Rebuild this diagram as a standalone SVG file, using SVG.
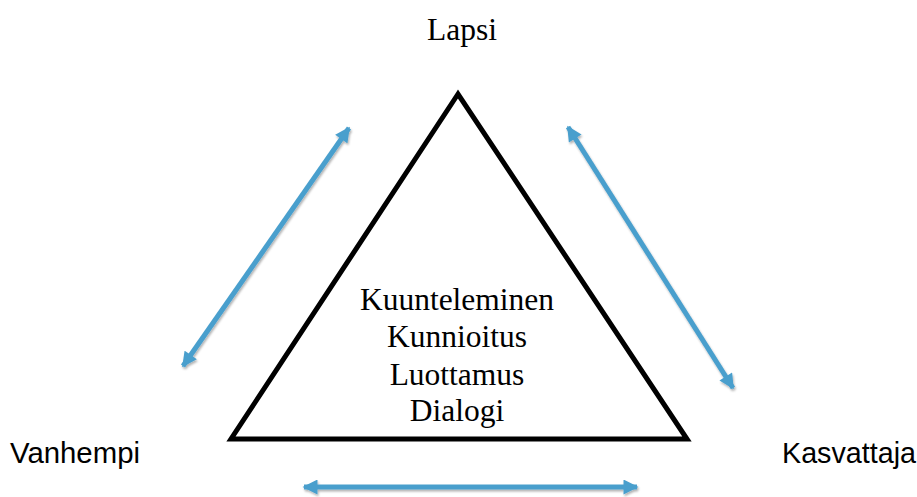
<svg xmlns="http://www.w3.org/2000/svg" width="917" height="497" viewBox="0 0 917 497">
<style>
.serif{font-family:"Liberation Serif","Times New Roman",serif;font-size:31.5px;fill:#000}
.sans{font-family:"Liberation Sans",Arial,sans-serif;font-size:29px;fill:#000}
.conn line{stroke:#4a9fcd;stroke-width:5;fill:none;marker-start:url(#ah);marker-end:url(#ah);filter:url(#sh)}
</style>
<defs>
<marker id="ah" viewBox="0 0 10 10" refX="9" refY="5" markerWidth="3.2" markerHeight="3" orient="auto-start-reverse" markerUnits="strokeWidth">
<path d="M0,0 L10,5 L0,10 Z" fill="#4a9fcd"/>
</marker>
<filter id="sh" filterUnits="userSpaceOnUse" x="0" y="0" width="917" height="497">
<feDropShadow dx="1" dy="2" stdDeviation="1.2" flood-color="#000" flood-opacity="0.3"/>
</filter>
</defs>
<g id="triangle">
<polygon points="458,94 231,439 687,439" fill="#fff" stroke="#000" stroke-width="5" stroke-linejoin="miter"/>
<text class="serif" text-anchor="middle" x="457" y="310">Kuunteleminen</text>
<text class="serif" text-anchor="middle" x="457" y="347">Kunnioitus</text>
<text class="serif" text-anchor="middle" x="457" y="385">Luottamus</text>
<text class="serif" text-anchor="middle" x="457" y="421">Dialogi</text>
</g>
<g id="lapsi"><text class="serif" text-anchor="middle" x="462" y="40">Lapsi</text></g>
<g id="vanhempi"><text class="sans" x="10" y="463" textLength="130" lengthAdjust="spacingAndGlyphs">Vanhempi</text></g>
<g id="kasvattaja"><text class="sans" x="782" y="463" textLength="134" lengthAdjust="spacingAndGlyphs">Kasvattaja</text></g>
<g id="connectors" class="conn">
<line x1="183" y1="366" x2="349" y2="128"/>
<line x1="568" y1="127" x2="733" y2="388"/>
<line x1="304" y1="487" x2="637" y2="487"/>
</g>
</svg>
